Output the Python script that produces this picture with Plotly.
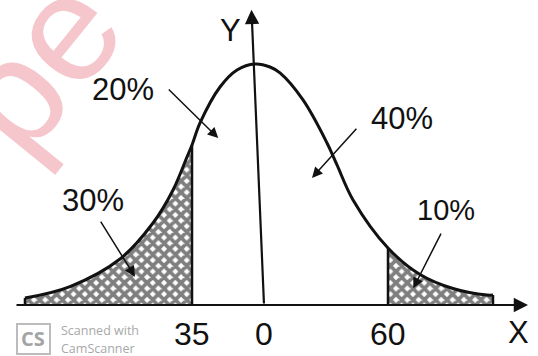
import plotly.graph_objects as go

# Normal-type frequency curve, read as (x, height) pairs in standard units
curve_x = [-3.067, -2.467, -1.800, -1.360, -1.093, -0.907, -0.840, -0.733, -0.467, -0.240,
           0.000, 0.200, 0.333, 0.640, 0.960, 1.093, 1.307, 1.773, 2.200, 2.640, 3.093, 3.173]
curve_y = [0.0116, 0.0307, 0.0764, 0.1361, 0.1909, 0.2456, 0.2656, 0.3021, 0.3618, 0.3901,
           0.4000, 0.3950, 0.3851, 0.3403, 0.2689, 0.2324, 0.1743, 0.0946, 0.0506, 0.0274,
           0.0166, 0.0166]

# Cut-off points on the X axis and their labels
cut_lo, cut_hi = -0.840, 1.773
tick_pos = [cut_lo, 0.12, cut_hi]
tick_text = ["35", "0", "60"]

# Area percentages: label, label position, arrow tail, arrow head
region_labels = ["30%", "20%", "40%", "10%"]
label_xy = [(-2.16, 0.174), (-1.76, 0.358), (1.96, 0.310), (2.55, 0.158)]
arrow_tail = [(-2.07, 0.141), (-1.17, 0.360), (1.37, 0.295), (2.49, 0.121)]
arrow_head = [(-1.60, 0.047), (-0.49, 0.277), (0.76, 0.211), (2.11, 0.028)]
label_size = [31, 31, 31, 29]

INK = "#111111"
hatch = dict(shape="x", size=8, solidity=0.72, fgcolor="#000000", bgcolor="white",
             fillmode="overlay")

fig = go.Figure()

# hatched tails
lo_x = [x for x in curve_x if x <= cut_lo]
lo_y = [y for x, y in zip(curve_x, curve_y) if x <= cut_lo]
hi_x = [x for x in curve_x if x >= cut_hi]
hi_y = [y for x, y in zip(curve_x, curve_y) if x >= cut_hi]
for xs, ys in [(lo_x, lo_y), (hi_x, hi_y)]:
    fig.add_trace(go.Scatter(x=xs, y=ys, mode="lines", fill="tozeroy",
                             line=dict(width=0, shape="spline", color=INK),
                             fillcolor="white", fillpattern=hatch,
                             hoverinfo="skip", showlegend=False))

# the curve
fig.add_trace(go.Scatter(x=curve_x, y=curve_y, mode="lines",
                         line=dict(width=3, shape="spline", color=INK),
                         hoverinfo="skip", showlegend=False))

# ordinates at the cut-offs and the little end ticks
for i in [0, curve_x.index(cut_lo), curve_x.index(cut_hi), len(curve_x) - 1]:
    fig.add_trace(go.Scatter(x=[curve_x[i], curve_x[i]], y=[0, curve_y[i]], mode="lines",
                             line=dict(width=2.5, color=INK),
                             hoverinfo="skip", showlegend=False))

ann = []
# axes with arrowheads
ann.append(dict(x=3.64, y=0, ax=-3.2, ay=0, xref="x", yref="y", axref="x", ayref="y",
                showarrow=True, arrowhead=2, arrowsize=1.3, arrowwidth=2.2,
                arrowcolor=INK, text="", standoff=0))
ann.append(dict(x=-0.047, y=0.49, ax=0.12, ay=0, xref="x", yref="y", axref="x", ayref="y",
                showarrow=True, arrowhead=2, arrowsize=1.3, arrowwidth=2.2,
                arrowcolor=INK, text="", standoff=0))
ann.append(dict(x=-0.33, y=0.455, text="Y", showarrow=False,
                font=dict(family="Liberation Sans", size=31, color=INK)))
ann.append(dict(x=3.51, y=-0.046, text="X", showarrow=False,
                font=dict(family="Liberation Sans", size=31, color=INK)))

# tick labels under the axis
for xp, t in zip(tick_pos, tick_text):
    ann.append(dict(x=xp, y=0, yanchor="top", yshift=-9, text=t, showarrow=False,
                    font=dict(family="Liberation Sans", size=32, color=INK)))

# percentage labels with pointer arrows
for lab, (lx, ly), (tx, ty), (hx, hy), fs in zip(region_labels, label_xy, arrow_tail,
                                                 arrow_head, label_size):
    ann.append(dict(x=lx, y=ly, text=lab, showarrow=False,
                    font=dict(family="Liberation Sans", size=fs, color=INK)))
    ann.append(dict(x=hx, y=hy, ax=tx, ay=ty, xref="x", yref="y", axref="x", ayref="y",
                    showarrow=True, arrowhead=2, arrowsize=1.4, arrowwidth=1.5,
                    arrowcolor=INK, text="", standoff=0))

W, H = 538, 356


def px(x):
    return x / W


def py(y):
    return 1 - y / H


def paper_text(x, y, text, size, color, family="Open Sans", xanchor="center", angle=0):
    return dict(x=px(x), y=py(y), xref="paper", yref="paper", text=text,
                xanchor=xanchor, yanchor="middle", showarrow=False, textangle=angle,
                font=dict(family=family, size=size, color=color))


# pink diagonal stamp
ann.append(paper_text(36, 64, "pe", 152, "#f5c6cb", family="Liberation Sans", angle=-51))

# scanner footer
ann.append(paper_text(33, 338, "<b>CS</b>", 20, "#a4a4a4"))
ann.append(paper_text(59, 330, "Scanned with", 12.5, "#a8a8a8", xanchor="left"))
ann.append(paper_text(59, 348, "CamScanner", 12.5, "#a8a8a8", xanchor="left"))

shapes = [dict(type="rect", xref="paper", yref="paper", x0=px(17), x1=px(50),
               y0=py(354), y1=py(324), line=dict(color="#bcbcbc", width=2),
               fillcolor="rgba(0,0,0,0)", layer="below")]

fig.update_layout(
    width=W, height=H, autosize=False,
    margin=dict(l=0, r=0, t=0, b=0),
    paper_bgcolor="white", plot_bgcolor="white",
    xaxis=dict(range=[-3.4, 3.773], visible=False, fixedrange=True),
    yaxis=dict(range=[-0.0846, 0.5062], visible=False, fixedrange=True),
    annotations=ann, shapes=shapes,
)

fig.write_html("out.html")
